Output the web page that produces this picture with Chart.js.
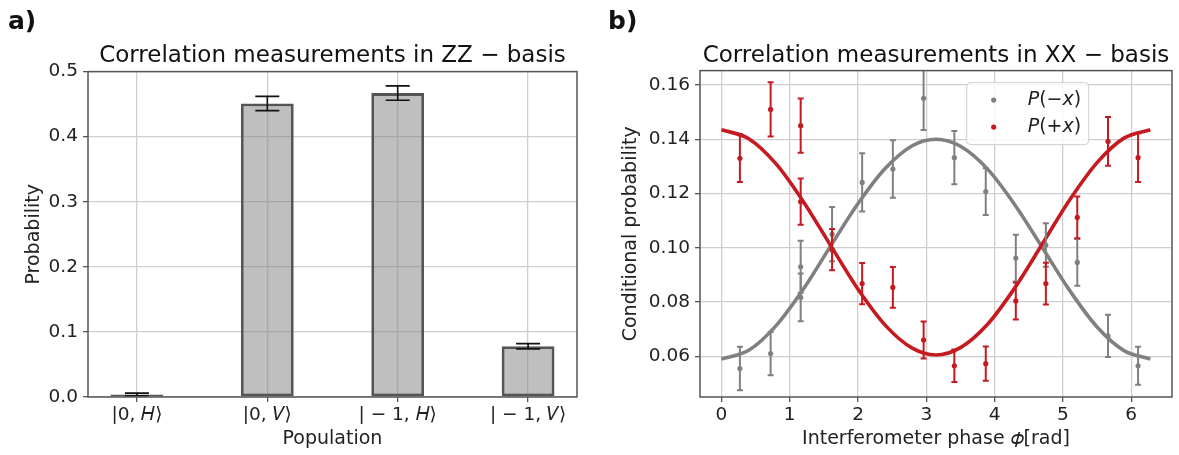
<!DOCTYPE html>
<html>
<head>
<meta charset="utf-8">
<script src="https://cdn.jsdelivr.net/npm/chart.js@4.4.0/dist/chart.umd.min.js"></script>
<style>
    html, body { margin: 0; padding: 0; background: #fff; }
    body { width: 1179px; height: 455px; position: relative; overflow: hidden; font-family: "DejaVu Sans", sans-serif; }
    .panel { position: absolute; top: 0; height: 455px; }
    #leftPanel { left: 0; width: 590px; }
    #rightPanel { left: 590px; width: 589px; }
    .tag { position: absolute; top: 4px; font-size: 25px; font-weight: bold; color: #111; line-height: 34px; }
</style>
</head>
<body>
<div class="panel" id="leftPanel"><canvas id="zzChart"></canvas></div>
<div class="panel" id="rightPanel"><canvas id="xxChart"></canvas></div>
<div class="tag" style="left: 8px;">a)</div>
<div class="tag" style="left: 608px;">b)</div>
<script>
// panel a) - ZZ basis populations
const populations = ["|0, 𝐻⟩", "|0, 𝑉⟩", "| − 1, 𝐻⟩", "| − 1, 𝑉⟩"];
const populationProb = [0.004, 0.451, 0.467, 0.078];
const populationErr = [0.002, 0.011, 0.011, 0.004];
const probTicks = [0.0, 0.1, 0.2, 0.3, 0.4, 0.5];

// panel b) - XX basis, measured points
const minusPhase = [0.27, 0.72, 1.16, 1.16, 1.62, 2.06, 2.51, 2.96, 3.41, 3.87, 4.31, 4.75, 5.21, 5.66, 6.10];
const minusProb = [0.0555, 0.061, 0.093, 0.0817, 0.105, 0.1241, 0.129, 0.1551, 0.1332, 0.1207, 0.0962, 0.101, 0.0946, 0.0675, 0.0565];
const minusErr = [0.008, 0.008, 0.0096, 0.0088, 0.010, 0.0107, 0.0106, 0.0117, 0.0098, 0.0086, 0.0086, 0.008, 0.0086, 0.0078, 0.007];
const plusPhase = [0.27, 0.72, 1.16, 1.16, 1.62, 2.06, 2.51, 2.96, 3.41, 3.87, 4.31, 4.75, 5.21, 5.66, 6.10];
const plusProb = [0.133, 0.151, 0.145, 0.117, 0.0993, 0.0868, 0.0854, 0.066, 0.0565, 0.0573, 0.0804, 0.0868, 0.1112, 0.1392, 0.1332];
const plusErr = [0.0088, 0.010, 0.010, 0.0085, 0.0076, 0.0076, 0.0075, 0.0068, 0.006, 0.0063, 0.0068, 0.0077, 0.0077, 0.009, 0.009];

// fitted curves
const fitPhase = [0, 0.4, 0.8, 1.2, 1.6, 2.0, 2.4, 2.8, 3.14, 3.5, 3.9, 4.3, 4.7, 5.1, 5.5, 5.9, 6.28];
const minusFit = [0.059, 0.0622, 0.0713, 0.0848, 0.1007, 0.1163, 0.1293, 0.1377, 0.140, 0.1374, 0.1289, 0.1157, 0.1000, 0.0842, 0.0708, 0.0620, 0.059];
const plusFit = [0.1435, 0.1402, 0.1309, 0.1170, 0.1008, 0.0847, 0.0714, 0.0629, 0.0605, 0.0632, 0.0719, 0.0854, 0.1015, 0.1177, 0.1314, 0.1405, 0.1435];

const phaseTicks = [0, 1, 2, 3, 4, 5, 6];
const condTicks = [0.06, 0.08, 0.10, 0.12, 0.14, 0.16];

const GREY = "#808080";
const RED = "#c41a20";
const GRID = "#cfcfcf";
const SPINE = "#555555";
const FONT = "DejaVu Sans";

Chart.defaults.font.family = FONT;
Chart.defaults.color = "#222222";
Chart.defaults.animation = false;

function toPoints(xs, ys) {
    return xs.map((x, i) => ({ x: x, y: ys[i] }));
}

// draws vertical error bars with caps for datasets carrying an `errors` array
const errorBarPlugin = {
    id: "errorBars",
    afterDatasetsDraw(chart) {
        const ctx = chart.ctx;
        const area = chart.chartArea;
        const yScale = chart.scales.y;
        ctx.save();
        ctx.beginPath();
        ctx.rect(area.left, area.top, area.right - area.left, area.bottom - area.top);
        ctx.clip();
        chart.data.datasets.forEach((ds, i) => {
            if (!ds.errors) return;
            const meta = chart.getDatasetMeta(i);
            ctx.strokeStyle = ds.errorColor;
            ctx.lineWidth = ds.errorWidth;
            meta.data.forEach((el, j) => {
                const v = ds.data[j].y;
                const e = ds.errors[j];
                const top = yScale.getPixelForValue(v + e);
                const bot = yScale.getPixelForValue(v - e);
                const half = ds.capSize / 2;
                ctx.beginPath();
                ctx.moveTo(el.x, top);
                ctx.lineTo(el.x, bot);
                ctx.moveTo(el.x - half, top);
                ctx.lineTo(el.x + half, top);
                ctx.moveTo(el.x - half, bot);
                ctx.lineTo(el.x + half, bot);
                ctx.stroke();
            });
        });
        ctx.restore();
    }
};

// full box around the plot area, like matplotlib spines
const framePlugin = {
    id: "frame",
    afterDraw(chart) {
        const ctx = chart.ctx;
        const a = chart.chartArea;
        ctx.save();
        ctx.strokeStyle = SPINE;
        ctx.lineWidth = 1.5;
        ctx.strokeRect(a.left, a.top, a.right - a.left, a.bottom - a.top);
        ctx.restore();
    }
};

// legend drawn inside the plot area
const insideLegendPlugin = {
    id: "insideLegend",
    afterDraw(chart, args, opts) {
        if (!opts.display) return;
        const ctx = chart.ctx;
        const a = chart.chartArea;
        const x = a.left + (a.right - a.left) * opts.fx;
        const y = a.top + opts.dy;
        const items = chart.data.datasets.filter((ds) => ds.inLegend);
        ctx.save();
        ctx.beginPath();
        ctx.roundRect(x, y, opts.width, opts.rowHeight * items.length + 8, 4);
        ctx.fillStyle = "rgba(255,255,255,0.8)";
        ctx.fill();
        ctx.strokeStyle = "#d0d0d0";
        ctx.lineWidth = 1;
        ctx.stroke();
        items.forEach((ds, k) => {
            const cy = y + 4 + opts.rowHeight * (k + 0.5);
            ctx.beginPath();
            ctx.arc(x + 27, cy, 2.6, 0, Math.PI * 2);
            ctx.fillStyle = ds.backgroundColor;
            ctx.fill();
            let tx = x + 61;
            ctx.fillStyle = "#222222";
            ctx.textBaseline = "middle";
            ds.label.match(/[A-Za-z]+|[^A-Za-z]+/g).forEach((part) => {
                const italic = /[A-Za-z]/.test(part);
                ctx.font = (italic ? "italic " : "") + "19px " + FONT;
                ctx.fillText(part, tx, cy);
                tx += ctx.measureText(part).width;
            });
        });
        ctx.restore();
    }
};

const tickFont = { size: 18.5 };
const labelFont = { size: 19 };
const titleFont = { size: 23, weight: "normal" };

new Chart(document.getElementById("zzChart"), {
    type: "bar",
    data: {
        datasets: [{
            data: toPoints(populations.map((p, i) => i), populationProb),
            errors: populationErr,
            errorColor: "#111111",
            errorWidth: 1.6,
            capSize: 24,
            backgroundColor: "rgba(128,128,128,0.5)",
            borderColor: "#555555",
            borderWidth: 2.8,
            borderSkipped: false,
            barPercentage: 0.405,
            categoryPercentage: 1.0
        }]
    },
    options: {
        responsive: true,
        maintainAspectRatio: false,
        layout: { padding: { left: 0, right: 13, top: 0, bottom: 0 } },
        plugins: {
            legend: { display: false },
            tooltip: { enabled: false },
            title: {
                display: true,
                fullSize: false,
                text: "Correlation measurements in ZZ − basis",
                font: titleFont,
                color: "#111111",
                padding: { top: 42, bottom: 2 }
            }
        },
        scales: {
            x: {
                type: "linear",
                offset: false,
                min: -0.375,
                max: 3.375,
                afterBuildTicks: (scale) => { scale.ticks = populations.map((p, i) => ({ value: i })); },
                afterFit: (scale) => { scale.height = 58; },
                ticks: { font: tickFont, padding: 2, callback: (v) => populations[v] },
                grid: { offset: false, color: GRID, lineWidth: 1.3, tickLength: 5, tickColor: SPINE, tickWidth: 1.3 },
                border: { display: false },
                title: { display: true, text: "Population", font: labelFont, color: "#222222", padding: { top: 0, bottom: 5 } }
            },
            y: {
                min: 0,
                max: 0.5,
                afterBuildTicks: (scale) => { scale.ticks = probTicks.map((v) => ({ value: v })); },
                afterFit: (scale) => { scale.width = 88; },
                ticks: { font: tickFont, padding: 5, callback: (v) => v.toFixed(1) },
                grid: { color: GRID, lineWidth: 1.3, tickLength: 5, tickColor: SPINE, tickWidth: 1.3 },
                border: { display: false },
                title: { display: true, text: "Probability", font: labelFont, color: "#222222", padding: { top: 23, bottom: 0 } }
            }
        }
    },
    plugins: [errorBarPlugin, framePlugin]
});

new Chart(document.getElementById("xxChart"), {
    type: "scatter",
    data: {
        datasets: [
            {
                label: "P(−x)",
                inLegend: true,
                data: toPoints(minusPhase, minusProb),
                errors: minusErr,
                errorColor: GREY,
                errorWidth: 2,
                capSize: 6,
                backgroundColor: GREY,
                borderWidth: 0,
                pointRadius: 2.6,
                order: 1
            },
            {
                label: "P(+x)",
                inLegend: true,
                data: toPoints(plusPhase, plusProb),
                errors: plusErr,
                errorColor: RED,
                errorWidth: 2,
                capSize: 6,
                backgroundColor: RED,
                borderWidth: 0,
                pointRadius: 2.6,
                order: 0
            },
            {
                label: "fit minus",
                data: toPoints(fitPhase, minusFit),
                showLine: true,
                pointRadius: 0,
                borderColor: GREY,
                borderWidth: 3.6,
                cubicInterpolationMode: "monotone",
                order: 3
            },
            {
                label: "fit plus",
                data: toPoints(fitPhase, plusFit),
                showLine: true,
                pointRadius: 0,
                borderColor: RED,
                borderWidth: 3.6,
                cubicInterpolationMode: "monotone",
                order: 2
            }
        ]
    },
    options: {
        responsive: true,
        maintainAspectRatio: false,
        layout: { padding: { left: 0, right: 7, top: 0, bottom: 0 } },
        plugins: {
            legend: { display: false },
            tooltip: { enabled: false },
            title: {
                display: true,
                fullSize: false,
                text: "Correlation measurements in XX − basis",
                font: titleFont,
                color: "#111111",
                padding: { top: 42, bottom: 1 }
            },
            insideLegend: { display: true, fx: 0.565, dy: 12, width: 122, rowHeight: 27 }
        },
        scales: {
            x: {
                type: "linear",
                min: -0.314,
                max: 6.597,
                afterBuildTicks: (scale) => { scale.ticks = phaseTicks.map((v) => ({ value: v })); },
                afterFit: (scale) => { scale.height = 58; },
                ticks: { font: tickFont, padding: 2, callback: (v) => String(v) },
                grid: { color: GRID, lineWidth: 1.3, tickLength: 5, tickColor: SPINE, tickWidth: 1.3 },
                border: { display: false },
                title: { display: true, text: "Interferometer phase 𝜙[rad]", font: labelFont, color: "#222222", padding: { top: 0, bottom: 5 } }
            },
            y: {
                min: 0.045,
                max: 0.1653,
                afterBuildTicks: (scale) => { scale.ticks = condTicks.map((v) => ({ value: v })); },
                afterFit: (scale) => { scale.width = 110; },
                ticks: { font: tickFont, padding: 5, callback: (v) => v.toFixed(2) },
                grid: { color: GRID, lineWidth: 1.3, tickLength: 5, tickColor: SPINE, tickWidth: 1.3 },
                border: { display: false },
                title: { display: true, text: "Conditional probability", font: labelFont, color: "#222222", padding: { top: 30, bottom: 0 } }
            }
        }
    },
    plugins: [errorBarPlugin, framePlugin, insideLegendPlugin]
});
</script>
</body>
</html>
